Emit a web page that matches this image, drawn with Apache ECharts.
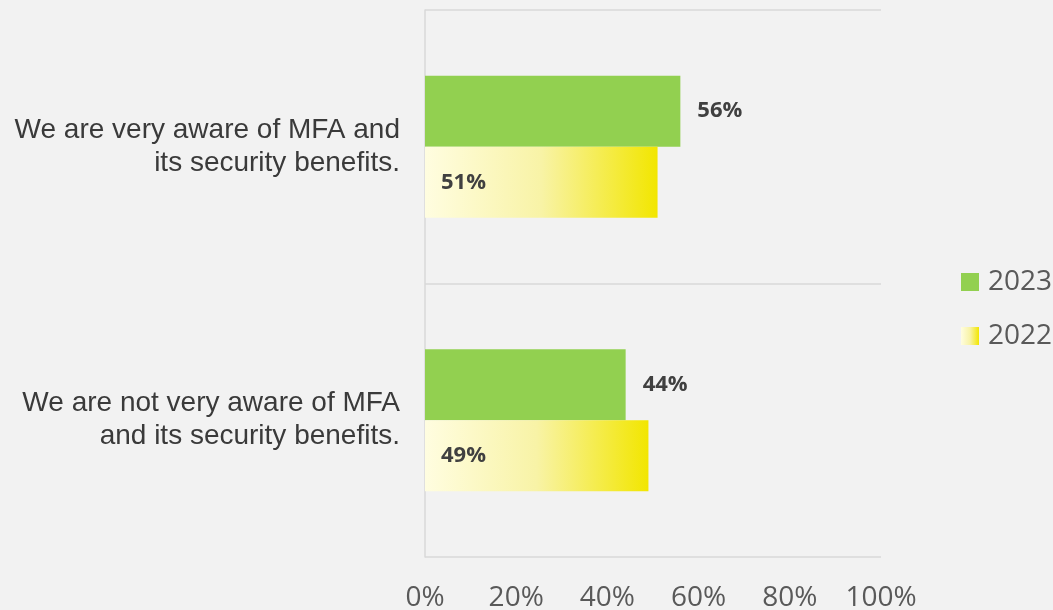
<!DOCTYPE html>
<html>
<head>
<meta charset="utf-8">
<title>MFA awareness</title>
<script src="https://cdn.jsdelivr.net/npm/echarts@6/dist/echarts.min.js"></script>
<style>
  html, body { margin: 0; padding: 0; background: #f2f2f2; }
  #chart { width: 1053px; height: 610px; }
</style>
</head>
<body>
<div id="chart"></div>
<script>
// categories, top to bottom
const categories = [
  'We are very aware of MFA and\nits security benefits.',
  'We are not very aware of MFA\nand its security benefits.'
];
const seriesNames = ['2023', '2022'];
const values2023 = [56, 44];
const values2022 = [51, 49];
const xTicks = [0, 20, 40, 60, 80, 100];

const green = '#92d050';
const yellowGrad = new echarts.graphic.LinearGradient(0, 0, 1, 0, [
  { offset: 0, color: '#fffde0' },
  { offset: 0.5, color: '#f8f3a6' },
  { offset: 1, color: '#f2e600' }
]);

const labelStyle = {
  show: true,
  formatter: '{c}%',
  fontFamily: 'Open Sans',
  fontWeight: 'bold',
  fontSize: 22,
  color: '#404040'
};

const option = {
  backgroundColor: '#f2f2f2',
  animation: false,
  grid: { left: 425, right: 172, top: 10, bottom: 53, outerBoundsMode: 'none' },
  legend: {
    orient: 'vertical',
    left: 961,
    top: 267,
    padding: 0,
    itemWidth: 18,
    itemHeight: 18,
    itemGap: 24,
    icon: 'rect',
    data: seriesNames,
    textStyle: { fontFamily: 'Open Sans', fontSize: 28, lineHeight: 30, color: '#595959', padding: [0, 0, 0, 4] }
  },
  xAxis: {
    type: 'value',
    min: xTicks[0],
    max: xTicks[xTicks.length - 1],
    interval: 20,
    axisLine: { show: false },
    axisTick: { show: false },
    splitLine: { show: false },
    axisLabel: {
      formatter: '{value}%',
      margin: 27,
      fontFamily: 'Open Sans',
      fontSize: 28,
      color: '#595959'
    }
  },
  yAxis: {
    type: 'category',
    inverse: true,
    data: categories,
    axisLine: { show: true, lineStyle: { color: '#d9d9d9', width: 1.5 } },
    axisTick: { show: false },
    splitLine: { show: true, lineStyle: { color: '#d9d9d9', width: 1.5 } },
    axisLabel: {
      margin: 25,
      fontFamily: 'Liberation Sans',
      fontSize: 28,
      lineHeight: 33,
      align: 'right',
      color: '#3a3a3a'
    }
  },
  series: [
    {
      name: seriesNames[0],
      type: 'bar',
      data: values2023,
      itemStyle: { color: green },
      barGap: '0%',
      barCategoryGap: '48%',
      label: Object.assign({}, labelStyle, { position: 'right', distance: 17 })
    },
    {
      name: seriesNames[1],
      type: 'bar',
      data: values2022,
      itemStyle: { color: yellowGrad },
      barGap: '0%',
      barCategoryGap: '48%',
      label: Object.assign({}, labelStyle, { position: 'insideLeft', distance: 16 })
    }
  ]
};

const chart = echarts.init(document.getElementById('chart'));
chart.setOption(option);
</script>
</body>
</html>
